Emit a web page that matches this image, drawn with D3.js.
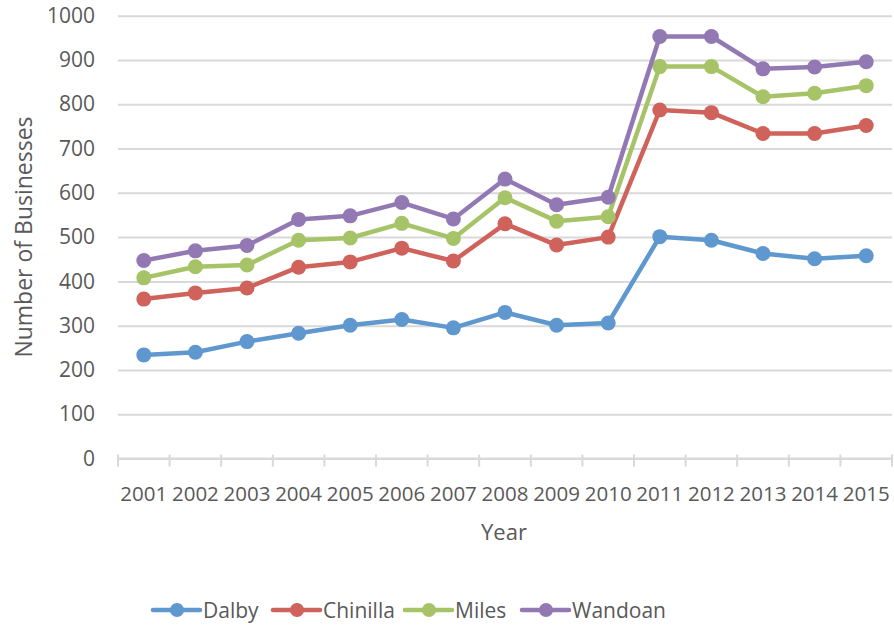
<!DOCTYPE html>
<html>
<head>
<meta charset="utf-8">
<script src="https://cdn.jsdelivr.net/npm/d3@7"></script>
<style>
  html, body { margin: 0; padding: 0; background: #fff; }
  svg { display: block; font-family: "Open Sans", "Noto Sans", sans-serif; }
</style>
</head>
<body>
<svg id="chart" width="894" height="627"></svg>
<script>
// Business counts per town, 2001–2015
const years = ["2001","2002","2003","2004","2005","2006","2007","2008","2009","2010","2011","2012","2013","2014","2015"];
const dalby    = [234, 240, 264, 283, 301, 314, 295, 330, 301, 306, 501, 493, 463, 451, 458];
const chinilla = [360, 374, 385, 432, 444, 475, 446, 530, 482, 500, 787, 781, 734, 734, 752];
const miles    = [408, 433, 437, 493, 498, 531, 497, 589, 536, 546, 885, 885, 817, 825, 842];
const wandoan  = [447, 469, 481, 540, 548, 578, 541, 631, 573, 590, 953, 953, 880, 884, 896];
const yTicks   = [0, 100, 200, 300, 400, 500, 600, 700, 800, 900, 1000];
const seriesNames  = ["Dalby", "Chinilla", "Miles", "Wandoan"];
const seriesValues = [dalby, chinilla, miles, wandoan];
const seriesColors = ["#5f97cf", "#cf625a", "#a6c467", "#9379b4"];

const svg = d3.select("#chart");
const textColor = "#595959";
const gridColor = "#d9d9d9";

const x = d3.scaleBand().domain(years).range([118, 892]);
const y = d3.scaleLinear().domain([0, 1000]).range([458.5, 15.7]);

// horizontal gridlines + y labels
const yAxis = svg.append("g")
  .attr("transform", "translate(118,0)")
  .call(d3.axisLeft(y).tickValues(yTicks).tickFormat(d3.format("d"))
    .tickSize(-(892 - 118)).tickPadding(23));
yAxis.select(".domain").remove();
yAxis.selectAll(".tick line").attr("stroke", gridColor).attr("stroke-width", 2);
yAxis.selectAll(".tick text")
  .attr("fill", textColor).attr("font-size", 21)
  .attr("font-family", "'Open Sans', sans-serif");

// category axis: line at zero with ticks on band boundaries
const xAxisG = svg.append("g");
xAxisG.append("line")
  .attr("x1", 118).attr("x2", 892)
  .attr("y1", y(0)).attr("y2", y(0))
  .attr("stroke", gridColor).attr("stroke-width", 2);
const boundaries = years.map(d => x(d)).concat([x.range()[1]]);
xAxisG.selectAll("line.tk").data(boundaries).enter().append("line")
  .attr("class", "tk")
  .attr("x1", d => d).attr("x2", d => d)
  .attr("y1", y(0) - 4).attr("y2", y(0) + 8)
  .attr("stroke", gridColor).attr("stroke-width", 2);
xAxisG.selectAll("text").data(years).enter().append("text")
  .attr("x", d => x(d) + x.bandwidth() / 2)
  .attr("y", 501)
  .attr("text-anchor", "middle")
  .attr("fill", textColor).attr("font-size", 20.5)
  .text(d => d);

// axis titles
svg.append("text")
  .attr("x", 504).attr("y", 540)
  .attr("text-anchor", "middle")
  .attr("fill", textColor).attr("font-size", 22)
  .text("Year");
svg.append("text")
  .attr("transform", "translate(32,237) rotate(-90)")
  .attr("text-anchor", "middle")
  .attr("fill", textColor).attr("font-size", 23)
  .text("Number of Businesses");

// series lines and markers
const line = d3.line()
  .x((d, i) => x(years[i]) + x.bandwidth() / 2)
  .y(d => y(d));

seriesValues.forEach((vals, si) => {
  const g = svg.append("g");
  g.append("path")
    .datum(vals)
    .attr("d", line)
    .attr("fill", "none")
    .attr("stroke", seriesColors[si])
    .attr("stroke-width", 4.5)
    .attr("stroke-linejoin", "round")
    .attr("stroke-linecap", "round");
  g.selectAll("circle").data(vals).enter().append("circle")
    .attr("cx", (d, i) => x(years[i]) + x.bandwidth() / 2)
    .attr("cy", d => y(d))
    .attr("r", 7.5)
    .attr("fill", seriesColors[si]);
});

// legend
const legendX = [153, 273, 405, 522];
const legendY = 610;
const legend = svg.append("g");
seriesNames.forEach((name, i) => {
  const lg = legend.append("g").attr("transform", `translate(${legendX[i]},${legendY})`);
  lg.append("line")
    .attr("x1", 0).attr("x2", 47).attr("y1", 0).attr("y2", 0)
    .attr("stroke", seriesColors[i]).attr("stroke-width", 4.5)
    .attr("stroke-linecap", "round");
  lg.append("circle").attr("cx", 24).attr("cy", 0).attr("r", 7).attr("fill", seriesColors[i]);
  lg.append("text")
    .attr("x", 50).attr("y", 0)
    .attr("dy", "0.36em")
    .attr("fill", textColor).attr("font-size", 21)
    .text(name);
});
</script>
</body>
</html>
